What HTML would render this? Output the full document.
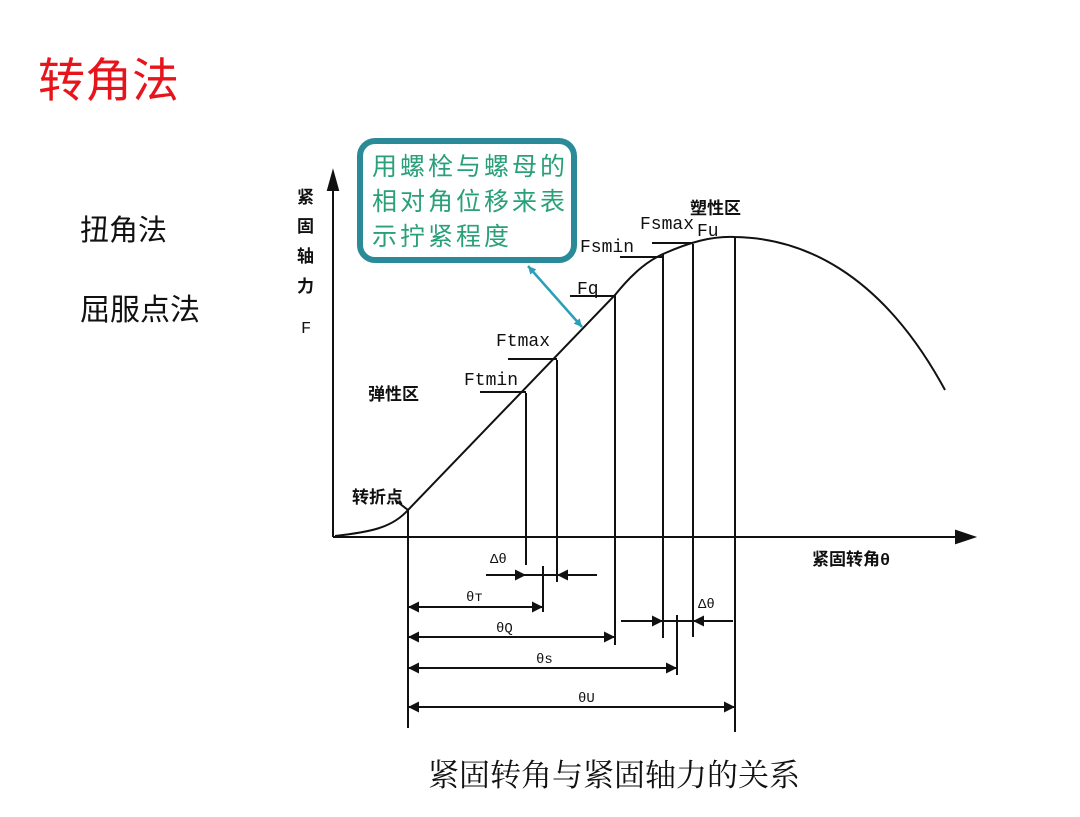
<!DOCTYPE html>
<html><head><meta charset="utf-8"><style>
body{margin:0;background:#fff;width:1080px;height:817px;overflow:hidden;position:relative;font-family:"Liberation Sans","Noto Sans CJK SC",sans-serif}
.t{position:absolute;white-space:nowrap}
</style></head><body>
<div class="t" style="left:38px;top:42px;font-size:47px;color:#e8141c">转角法</div>
<div class="t" style="left:80px;top:207px;font-size:29px;color:#111">扭角法</div>
<div class="t" style="left:80px;top:285px;font-size:30px;color:#111">屈服点法</div>
<div class="t" style="left:428px;top:750px;font-size:31px;color:#111;font-family:'Noto Serif CJK SC',serif">紧固转角与紧固轴力的关系</div>
<svg width="1080" height="817" style="position:absolute;left:0;top:0" font-family="Liberation Mono, Noto Sans CJK SC, monospace">
<defs>
<marker id="b" viewBox="0 0 10 10" refX="10" refY="5" markerWidth="18" markerHeight="11" orient="auto-start-reverse" markerUnits="userSpaceOnUse"><path d="M0,0L10,5L0,10z" fill="#111"/></marker>
<marker id="c" viewBox="0 0 10 10" refX="10" refY="5" markerWidth="10" markerHeight="8" orient="auto-start-reverse" markerUnits="userSpaceOnUse"><path d="M0,0L10,5L0,10z" fill="#2aa0b8"/></marker></defs>
<g stroke="#111" stroke-width="2" fill="none">
<line x1="333" y1="537" x2="333" y2="180"/>
<path d="M328,190L333,172L338,190z" fill="#111"/>
<line x1="333" y1="537" x2="960" y2="537"/>
<path d="M956,531L974,537L956,543z" fill="#111"/>
<path d="M335,536 C370,532 392,528 408,510 L615,295 C635,270 650,260 663,254 C690,242 712,236 735,237 C800,238 880,270 945,390"/>
<line x1="408" y1="510" x2="408" y2="728"/>
<line x1="526" y1="393" x2="526" y2="565"/>
<line x1="557" y1="360" x2="557" y2="582"/>
<line x1="615" y1="295" x2="615" y2="645"/>
<line x1="663" y1="254" x2="663" y2="638"/>
<line x1="693" y1="244" x2="693" y2="637"/>
<line x1="735" y1="237" x2="735" y2="732"/>
<line x1="543" y1="566" x2="543" y2="612"/>
<line x1="677" y1="615" x2="677" y2="675"/>
<line x1="480" y1="392" x2="526" y2="392"/>
<line x1="508" y1="359" x2="557" y2="359"/>
<line x1="570" y1="296" x2="615" y2="296"/>
<line x1="620" y1="257" x2="663" y2="257"/>
<line x1="652" y1="243" x2="693" y2="243"/>
<path d="M395,500 L408,510"/>
<line x1="486" y1="575" x2="526" y2="575" marker-end="url(#b)"/>
<line x1="597" y1="575" x2="557" y2="575" marker-end="url(#b)"/>
<line x1="526" y1="575" x2="557" y2="575"/>
<line x1="621" y1="621" x2="663" y2="621" marker-end="url(#b)"/>
<line x1="733" y1="621" x2="693" y2="621" marker-end="url(#b)"/>
<line x1="663" y1="621" x2="693" y2="621"/>
<line x1="408" y1="607" x2="543" y2="607" marker-start="url(#b)" marker-end="url(#b)"/>
<line x1="408" y1="637" x2="615" y2="637" marker-start="url(#b)" marker-end="url(#b)"/>
<line x1="408" y1="668" x2="677" y2="668" marker-start="url(#b)" marker-end="url(#b)"/>
<line x1="408" y1="707" x2="735" y2="707" marker-start="url(#b)" marker-end="url(#b)"/>
</g>
<g fill="#111" font-size="18">
<text x="464" y="385">Ftmin</text>
<text x="496" y="346">Ftmax</text>
<text x="577" y="294">Fq</text>
<text x="580" y="252">Fsmin</text>
<text x="640" y="229">Fsmax</text>
<text x="697" y="236">Fu</text>
<text x="690" y="214" font-size="17" font-weight="bold">塑性区</text>
<text x="368" y="400" font-size="17" font-weight="bold">弹性区</text>
<text x="352" y="503" font-size="17" font-weight="bold">转折点</text>
<text x="812" y="565" font-size="17" font-weight="bold">紧固转角θ</text>
<text x="490" y="563" font-size="14">Δθ</text>
<text x="698" y="608" font-size="14">Δθ</text>
<text x="466" y="601" font-size="14">θт</text>
<text x="496" y="632" font-size="14">θQ</text>
<text x="536" y="663" font-size="14">θs</text>
<text x="578" y="702" font-size="14">θU</text>
<g font-size="17" font-weight="bold"><text x="297" y="203">紧</text><text x="297" y="232">固</text><text x="297" y="262">轴</text><text x="297" y="292">力</text><text x="301" y="333" font-size="17" font-weight="normal">F</text></g>
</g>
<rect x="360" y="141" width="214" height="119" rx="15" fill="#fff" stroke="#2a8a98" stroke-width="6"/>
<g fill="#2aa07a" font-size="25" font-family="Noto Sans CJK SC, sans-serif" letter-spacing="3">
<text x="372" y="175">用螺栓与螺母的</text>
<text x="372" y="210">相对角位移来表</text>
<text x="372" y="245">示拧紧程度</text>
</g>
<line x1="528" y1="266" x2="582" y2="327" stroke="#2aa0b8" stroke-width="2.5" marker-start="url(#c)" marker-end="url(#c)"/>
</svg>
</body></html>
